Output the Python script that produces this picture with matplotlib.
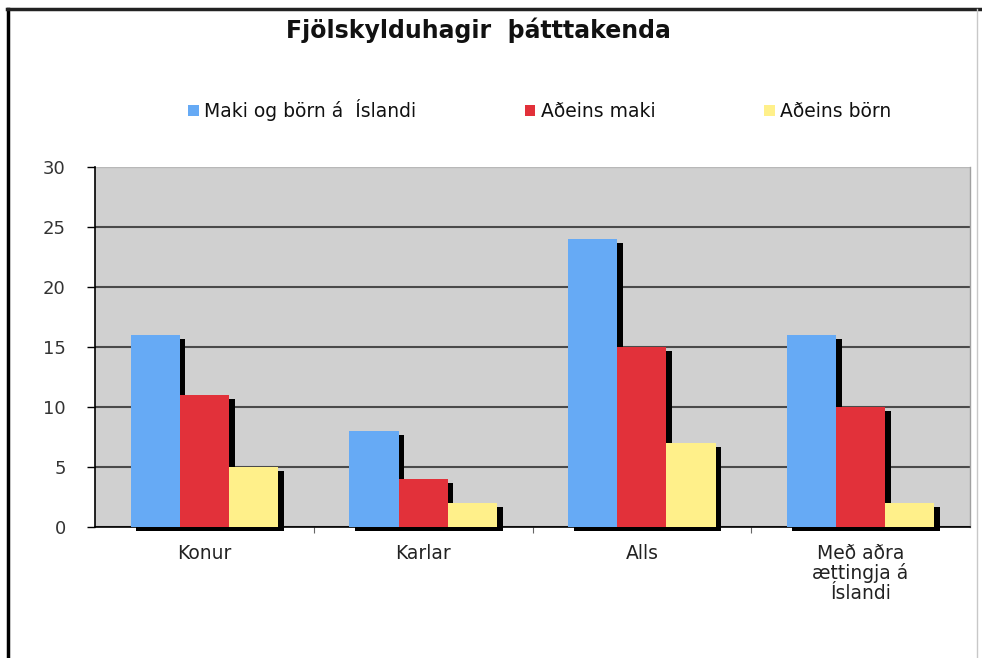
import matplotlib
matplotlib.use("Agg")
import matplotlib.pyplot as plt
import matplotlib.patheffects as pe
from matplotlib.lines import Line2D
from matplotlib.patches import Patch
import numpy as np

categories = ["Konur", "Karlar", "Alls", "Með aðra\nættingja á\nÍslandi"]
series_names = ["Maki og börn á  Íslandi", "Aðeins maki", "Aðeins börn"]
maki_og_born = [16, 8, 24, 16]
adeins_maki = [11, 4, 15, 10]
adeins_born = [5, 2, 7, 2]
y_ticks = [0, 5, 10, 15, 20, 25, 30]

colors = ["#66AAF5", "#E2313A", "#FFF08A"]
W, H = 982, 658
fig = plt.figure(figsize=(W / 100, H / 100), dpi=100)
fig.patch.set_facecolor("white")

ax = fig.add_axes([95 / W, 1 - 527 / H, (970 - 95) / W, (527 - 167) / H])
ax.set_facecolor("#D0D0D0")

x = np.arange(len(categories))
bw = 0.225
shadow = [pe.SimplePatchShadow(offset=(4, -3), shadow_rgbFace="black", alpha=1.0), pe.Normal()]
for i, (vals, col) in enumerate(zip([maki_og_born, adeins_maki, adeins_born], colors)):
    bars = ax.bar(x + (i - 1) * bw, vals, bw, color=col, zorder=3 + i, clip_on=False)
    for b in bars:
        b.set_path_effects(shadow)

ax.set_xlim(-0.5, len(categories) - 0.5)
ax.set_ylim(0, 30)
ax.set_yticks(y_ticks)
ax.set_yticklabels([str(v) for v in y_ticks], fontsize=13, color="#333333")
ax.tick_params(axis="y", length=6, width=1, color="black", pad=15)

ax.set_xticks(x)
ax.set_xticklabels(categories, fontsize=13.5, color="#222222", linespacing=1.05)
ax.tick_params(axis="x", which="major", length=0, pad=12)
ax.set_xticks(np.arange(0.5, len(categories) - 0.5, 1.0), minor=True)
ax.tick_params(axis="x", which="minor", length=4, width=0.8, color="#666666")

ax.yaxis.grid(True, color="#4A4A4A", linewidth=1.5, zorder=1)
ax.set_axisbelow(True)
ax.get_ygridlines()[-1].set_color("#B8B8B8")
ax.get_ygridlines()[-1].set_linewidth(1.0)

ax.spines["left"].set_color("black")
ax.spines["left"].set_linewidth(1.2)
ax.spines["bottom"].set_color("black")
ax.spines["bottom"].set_linewidth(1.2)
ax.spines["top"].set_visible(False)
ax.spines["right"].set_color("#A0A0A0")
ax.spines["right"].set_linewidth(1.0)

fig.text(478 / W, 1 - 30 / H, "Fjölskylduhagir  þátttakenda", ha="center", va="center",
         fontsize=17, fontweight="bold", color="#111111")

handles = [Patch(facecolor=c, edgecolor="none") for c in colors]
fig.legend(handles, series_names, loc="center", bbox_to_anchor=(540 / W, 1 - 110 / H),
           ncol=3, frameon=False, fontsize=13.5, handlelength=0.55, handleheight=0.55,
           handletextpad=0.3, columnspacing=5.8, labelcolor="#111111")

# outer frame of the chart
fig.add_artist(Line2D([8 / W, 8 / W], [0, 1 - 9 / H], color="black", linewidth=2.5,
                      transform=fig.transFigure))
fig.add_artist(Line2D([7 / W, 1], [1 - 9 / H, 1 - 9 / H], color="#222222", linewidth=2.5,
                      transform=fig.transFigure))
fig.add_artist(Line2D([977 / W, 977 / W], [0, 1 - 9 / H], color="#C8C8C8", linewidth=1.0,
                      transform=fig.transFigure))

fig.savefig("out.png", dpi=100)
